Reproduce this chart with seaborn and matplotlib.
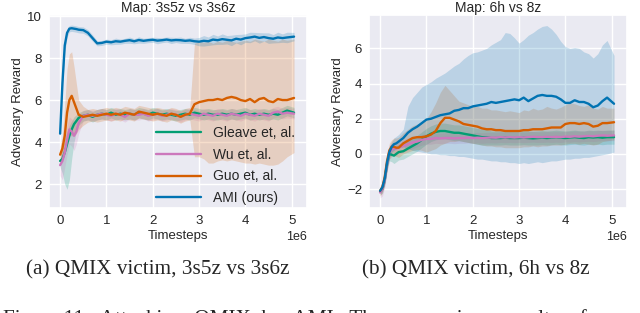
"""
    Attack curves of AMI against QMIX victims (two SMAC maps),
    mean reward per method with its shaded spread
"""

import matplotlib
matplotlib.use("Agg")
import matplotlib.pyplot as plt
import seaborn as sns
import pandas as pd
import numpy as np

sns.set_theme(style="darkgrid")
plt.rcParams["font.family"] = ["Liberation Sans", "DejaVu Sans"]

# timesteps in units of 1e6
steps = [0, 0.05, 0.1, 0.15, 0.2, 0.25, 0.3, 0.35, 0.4,
         0.5, 0.6, 0.7, 0.8, 0.9,
         1.0, 1.1, 1.2, 1.3, 1.4, 1.5, 1.6, 1.7, 1.8, 1.9,
         2.0, 2.1, 2.2, 2.3, 2.4, 2.5, 2.6, 2.7, 2.8, 2.9,
         3.0, 3.1, 3.2, 3.3, 3.4, 3.5, 3.6, 3.7, 3.8, 3.9,
         4.0, 4.1, 4.2, 4.3, 4.4, 4.5, 4.6, 4.7, 4.8, 4.9,
         5.05]

methods = ["Gleave et, al.", "Wu et, al.", "Guo et, al.", "AMI (ours)"]
colors = ["#029e73", "#cc78bc", "#d55e00", "#0173b2"]

# ---- Map: 3s5z vs 3s6z ----
gle_l = [3.1, 3.2, 3.5, 3.9, 4.3, 4.6, 4.85, 5.0, 5.15,
         5.25, 5.3, 5.2, 5.3, 5.35,
         5.3, 5.4, 5.3, 5.35, 5.3, 5.35, 5.3, 5.4, 5.35, 5.3,
         5.4, 5.35, 5.3, 5.35, 5.3, 5.25, 5.3, 5.35, 5.3, 5.4,
         5.35, 5.3, 5.35, 5.3, 5.3, 5.35, 5.3, 5.35, 5.3, 5.35,
         5.4, 5.3, 5.35, 5.3, 5.35, 5.3, 5.35, 5.3, 5.4, 5.5,
         5.4]
gle_l_lo = [2.8, 2.5, 2.0, 1.75, 2.2, 3.2, 4.0, 4.5, 4.8,
            5.0, 5.05, 4.95, 5.05, 5.1,
            5.05, 5.15, 5.05, 5.1, 5.05, 5.1, 5.05, 5.15, 5.1, 5.05,
            5.15, 5.1, 5.05, 5.1, 5.05, 5.0, 5.05, 5.1, 5.05, 5.15,
            5.1, 5.05, 5.1, 5.05, 5.05, 5.1, 5.05, 5.1, 5.05, 5.1,
            5.15, 5.05, 5.1, 5.05, 5.1, 5.05, 5.1, 5.05, 5.15, 5.25,
            5.15]
gle_l_hi = [3.4, 3.7, 4.2, 4.5, 4.8, 5.0, 5.2, 5.3, 5.4,
            5.5, 5.55, 5.45, 5.55, 5.6,
            5.55, 5.65, 5.55, 5.6, 5.55, 5.6, 5.55, 5.65, 5.6, 5.55,
            5.65, 5.6, 5.55, 5.6, 5.55, 5.5, 5.55, 5.6, 5.55, 5.65,
            5.6, 5.55, 5.6, 5.55, 5.55, 5.6, 5.55, 5.6, 5.55, 5.6,
            5.65, 5.55, 5.6, 5.55, 5.6, 5.55, 5.6, 5.55, 5.65, 5.75,
            5.65]

wu_l = [2.9, 3.1, 3.5, 4.1, 4.6, 4.5, 4.3, 4.5, 4.9,
        5.25, 5.3, 5.25, 5.3, 5.35,
        5.3, 5.25, 5.35, 5.3, 5.2, 5.35, 5.3, 5.3, 5.35, 5.25,
        5.3, 5.35, 5.25, 5.3, 5.35, 5.3, 5.2, 5.3, 5.35, 5.3,
        5.25, 5.35, 5.3, 5.25, 5.35, 5.3, 5.25, 5.35, 5.3, 5.25,
        5.35, 5.3, 5.25, 5.35, 5.3, 5.25, 5.4, 5.45, 5.35, 5.4,
        5.35]
wu_l_lo = [2.4, 2.2, 2.8, 3.4, 3.9, 3.8, 3.6, 3.9, 4.4,
           5.0, 5.05, 5.0, 5.05, 5.1,
           5.05, 5.0, 5.1, 5.05, 4.95, 5.1, 5.05, 5.05, 5.1, 5.0,
           5.05, 5.1, 5.0, 5.05, 5.1, 5.05, 4.95, 5.05, 5.1, 5.05,
           5.0, 5.1, 5.05, 5.0, 5.1, 5.05, 5.0, 5.1, 5.05, 5.0,
           5.1, 5.05, 5.0, 5.1, 5.05, 5.0, 5.15, 5.2, 5.1, 5.15,
           5.1]
wu_l_hi = [3.3, 3.6, 4.2, 4.8, 5.2, 5.1, 5.0, 5.1, 5.3,
           5.5, 5.55, 5.5, 5.55, 5.6,
           5.55, 5.5, 5.6, 5.55, 5.45, 5.6, 5.55, 5.55, 5.6, 5.5,
           5.55, 5.6, 5.5, 5.55, 5.6, 5.55, 5.45, 5.55, 5.6, 5.55,
           5.5, 5.6, 5.55, 5.5, 5.6, 5.55, 5.5, 5.6, 5.55, 5.5,
           5.6, 5.55, 5.5, 5.6, 5.55, 5.5, 5.65, 5.7, 5.6, 5.65,
           5.6]

guo_l = [3.4, 3.7, 4.3, 5.4, 6.0, 6.2, 5.9, 5.6, 5.3,
         5.2, 5.25, 5.3, 5.25, 5.3,
         5.35, 5.3, 5.35, 5.3, 5.4, 5.35, 5.3, 5.45, 5.4, 5.35,
         5.3, 5.35, 5.3, 5.25, 5.35, 5.3, 5.2, 5.3, 5.35, 5.8,
         5.9, 5.95, 6.0, 6.0, 6.05, 6.0, 6.1, 6.15, 6.1, 6.0,
         5.95, 6.05, 5.9, 6.05, 6.1, 5.95, 5.9, 6.05, 6.0, 6.0,
         6.1]
guo_l_lo = [3.0, 3.2, 3.5, 4.0, 4.3, 4.3, 4.3, 4.4, 4.6,
            4.8, 4.95, 5.0, 4.95, 5.0,
            5.05, 5.0, 5.05, 5.0, 5.1, 5.05, 5.0, 5.15, 5.1, 5.05,
            5.0, 5.05, 5.0, 4.95, 5.05, 5.0, 4.9, 5.0, 5.05, 3.3,
            3.3, 3.2, 3.0, 3.0, 3.1, 3.15, 3.1, 3.15, 3.1, 3.05,
            3.0, 3.0, 2.95, 3.0, 2.95, 2.9, 2.9, 2.95, 3.1, 3.3,
            3.5]
guo_l_hi = [3.8, 4.3, 5.8, 7.5, 8.2, 8.3, 7.6, 6.8, 6.0,
            5.7, 5.55, 5.6, 5.55, 5.6,
            5.65, 5.6, 5.65, 5.6, 5.7, 5.65, 5.6, 5.75, 5.7, 5.65,
            5.6, 5.65, 5.6, 5.55, 5.65, 5.6, 5.5, 5.6, 5.65, 8.7,
            8.8, 8.75, 8.8, 8.7, 8.8, 8.75, 8.85, 8.8, 8.75, 8.8,
            8.85, 8.8, 8.9, 8.85, 8.8, 8.9, 8.85, 8.8, 8.9, 8.85,
            8.9]

ami_l = [4.4, 6.8, 8.6, 9.2, 9.4, 9.42, 9.4, 9.38, 9.35,
         9.33, 9.2, 8.95, 8.7, 8.72,
         8.78, 8.75, 8.8, 8.78, 8.82, 8.85, 8.8, 8.86, 8.82, 8.85,
         8.87, 8.83, 8.85, 8.88, 8.84, 8.86, 8.85, 8.82, 8.84, 8.8,
         8.78, 8.82, 8.8, 8.88, 8.85, 8.9, 8.87, 8.84, 8.92, 8.88,
         8.95, 8.98, 9.02, 8.96, 9.0, 8.95, 8.92, 8.98, 8.95, 8.98,
         9.02]
ami_l_err = [0.1, 0.4, 0.35, 0.2, 0.15, 0.15, 0.15, 0.15, 0.15,
             0.15, 0.15, 0.15, 0.12, 0.12,
             0.12, 0.12, 0.15, 0.12, 0.12, 0.15, 0.12, 0.15, 0.12, 0.12,
             0.12, 0.15, 0.12, 0.12, 0.15, 0.12, 0.15, 0.12, 0.15, 0.15,
             0.2, 0.25, 0.2, 0.25, 0.2, 0.25, 0.2, 0.25, 0.2, 0.25,
             0.2, 0.25, 0.2, 0.25, 0.2, 0.25, 0.2, 0.25, 0.2, 0.25,
             0.2]

# ---- Map: 6h vs 8z ----
gle_r = [-2.15, -2.0, -1.5, -0.6, 0.0, -0.05, -0.1, 0.0, 0.1,
         0.15, 0.3, 0.45, 0.6, 0.8,
         1.0, 1.15, 1.25, 1.3, 1.3, 1.25, 1.2, 1.2, 1.15, 1.1,
         1.05, 1.0, 0.95, 0.95, 0.9, 0.9, 0.9, 0.92, 0.9, 0.9,
         0.9, 0.92, 0.9, 0.88, 0.9, 0.92, 0.9, 0.92, 0.95, 0.92,
         0.9, 0.93, 0.95, 0.92, 0.9, 0.95, 0.93, 0.95, 0.92, 0.95,
         0.95]
gle_r_lo = [-2.35, -2.25, -1.8, -1.0, -0.4, -0.45, -0.55, -0.45, -0.35,
            -0.3, -0.15, 0.0, 0.15, 0.35,
            0.55, 0.7, 0.8, 0.85, 0.85, 0.8, 0.75, 0.75, 0.7, 0.65,
            0.6, 0.55, 0.5, 0.5, 0.5, 0.5, 0.5, 0.52, 0.5, 0.5,
            0.5, 0.52, 0.5, 0.5, 0.5, 0.52, 0.5, 0.52, 0.55, 0.52,
            0.5, 0.53, 0.55, 0.52, 0.5, 0.55, 0.53, 0.55, 0.52, 0.55,
            0.55]
gle_r_hi = [-1.95, -1.75, -1.2, -0.2, 0.4, 0.35, 0.35, 0.45, 0.55,
            0.6, 0.75, 0.9, 1.05, 1.25,
            1.45, 1.6, 1.7, 1.75, 1.75, 1.7, 1.65, 1.65, 1.6, 1.55,
            1.5, 1.45, 1.4, 1.4, 1.3, 1.3, 1.3, 1.32, 1.3, 1.3,
            1.3, 1.32, 1.3, 1.28, 1.3, 1.32, 1.3, 1.32, 1.35, 1.32,
            1.3, 1.33, 1.35, 1.32, 1.3, 1.35, 1.33, 1.35, 1.32, 1.35,
            1.35]

wu_r = [-2.2, -2.0, -1.5, -0.6, 0.1, 0.25, 0.3, 0.3, 0.35,
        0.45, 0.55, 0.65, 0.7, 0.8,
        0.85, 0.85, 0.9, 0.88, 0.9, 0.9, 0.88, 0.9, 0.9, 0.92,
        0.9, 0.92, 0.9, 0.92, 0.93, 0.92, 0.95, 0.93, 0.95, 0.93,
        0.95, 0.93, 0.95, 0.97, 0.95, 0.95, 0.97, 0.95, 0.97, 0.95,
        0.98, 0.97, 1.0, 0.98, 1.0, 1.02, 1.0, 1.03, 1.05, 1.03,
        1.05]
wu_r_lo = [-2.5, -2.4, -1.9, -1.0, -0.3, -0.15, -0.1, -0.1, -0.05,
           0.1, 0.2, 0.3, 0.4, 0.5,
           0.55, 0.55, 0.6, 0.58, 0.6, 0.6, 0.58, 0.6, 0.6, 0.62,
           0.6, 0.62, 0.6, 0.62, 0.63, 0.62, 0.65, 0.63, 0.65, 0.63,
           0.65, 0.63, 0.65, 0.67, 0.65, 0.65, 0.67, 0.65, 0.67, 0.65,
           0.68, 0.67, 0.7, 0.68, 0.7, 0.72, 0.7, 0.73, 0.75, 0.73,
           0.75]
wu_r_hi = [-1.9, -1.6, -1.1, -0.2, 0.5, 0.6, 0.65, 0.65, 0.7,
           0.8, 0.9, 1.0, 1.0, 1.1,
           1.15, 1.15, 1.2, 1.18, 1.2, 1.2, 1.18, 1.2, 1.2, 1.22,
           1.2, 1.22, 1.2, 1.22, 1.23, 1.22, 1.25, 1.23, 1.25, 1.23,
           1.25, 1.23, 1.25, 1.27, 1.25, 1.25, 1.27, 1.25, 1.27, 1.25,
           1.28, 1.27, 1.3, 1.28, 1.3, 1.32, 1.3, 1.33, 1.35, 1.33,
           1.35]

guo_r = [-2.1, -1.9, -1.3, -0.4, 0.2, 0.4, 0.4, 0.35, 0.35,
         0.6, 0.75, 0.9, 0.95, 0.95,
         1.0, 1.1, 1.3, 1.75, 2.05, 2.05, 1.95, 1.85, 1.7, 1.65,
         1.6, 1.55, 1.45, 1.4, 1.4, 1.35, 1.35, 1.3, 1.3, 1.3,
         1.3, 1.35, 1.35, 1.4, 1.4, 1.4, 1.45, 1.5, 1.5, 1.5,
         1.7, 1.75, 1.75, 1.7, 1.75, 1.7, 1.55, 1.6, 1.75, 1.75,
         1.8]
guo_r_lo = [-2.4, -2.2, -1.7, -0.9, -0.3, -0.1, -0.1, -0.15, -0.2,
            0.0, 0.1, 0.2, 0.25, 0.2,
            0.1, 0.2, 0.3, 0.5, 0.6, 0.7, 0.7, 0.75, 0.7, 0.65,
            0.6, 0.55, 0.5, 0.45, 0.45, 0.4, 0.4, 0.35, 0.35, 0.35,
            0.35, 0.4, 0.4, 0.45, 0.4, 0.45, 0.45, 0.5, 0.5, 0.5,
            0.55, 0.6, 0.6, 0.55, 0.6, 0.55, 0.5, 0.55, 0.7, 0.75,
            0.8]
guo_r_hi = [-1.8, -1.6, -1.0, 0.0, 0.6, 0.8, 0.9, 0.9, 0.95,
            1.2, 1.4, 1.6, 1.7, 1.8,
            2.0, 2.4, 2.9, 3.5, 3.9, 3.6, 3.3, 3.0, 2.9, 2.8,
            2.7, 2.7, 2.6, 2.6, 2.5, 2.5, 2.45, 2.4, 2.45, 2.4,
            2.35, 2.5, 2.45, 2.6, 2.5, 2.55, 2.7, 2.6, 2.55, 2.65,
            2.8, 2.9, 2.85, 2.75, 2.7, 2.8, 2.6, 2.55, 2.7, 2.6,
            2.6]

ami_r = [-2.1, -1.9, -1.4, -0.5, 0.1, 0.4, 0.55, 0.6, 0.7,
         0.9, 1.2, 1.4, 1.55, 1.75,
         1.95, 2.0, 2.1, 2.2, 2.25, 2.3, 2.45, 2.5, 2.6, 2.6,
         2.7, 2.75, 2.8, 2.85, 2.95, 2.9, 2.95, 3.0, 3.05, 3.1,
         3.05, 3.2, 3.0, 3.15, 3.3, 3.35, 3.3, 3.3, 3.25, 3.1,
         2.9, 2.9, 3.05, 2.95, 2.95, 2.85, 2.65, 2.75, 3.0, 3.2,
         2.85]
ami_r_lo = [-2.3, -2.1, -1.7, -0.8, -0.2, 0.1, 0.2, 0.3, 0.35,
            0.4, 0.3, 0.2, 0.15, 0.1,
            0.05, 0.0, 0.0, -0.05, -0.05, -0.1, -0.1, -0.15, -0.15, -0.2,
            -0.25, -0.3, -0.3, -0.35, -0.4, -0.4, -0.45, -0.45, -0.5, -0.5,
            -0.55, -0.5, -0.55, -0.5, -0.45, -0.5, -0.45, -0.4, -0.4, -0.35,
            -0.3, -0.3, -0.25, -0.25, -0.2, -0.2, -0.15, -0.1, -0.05, 0.0,
            0.1]
ami_r_hi = [-1.9, -1.7, -1.1, -0.2, 0.4, 0.7, 0.9, 1.0, 1.1,
            1.4, 2.7, 3.2, 3.5, 3.8,
            3.95, 4.1, 4.3, 4.45, 4.6, 4.8, 5.0, 5.15, 5.4, 5.6,
            5.75, 5.8, 5.9, 6.0, 6.2, 6.35, 6.5, 6.9, 6.85, 6.6,
            6.3, 6.5, 6.75, 6.9, 7.1, 7.25, 7.3, 7.1, 6.8, 6.4,
            6.1, 6.0, 6.05, 6.0, 5.8, 5.7, 5.45, 5.7, 6.2, 6.45,
            5.6]


def plot_panel(ax, curves, title, ylim, show_legend):
    """
    Draws the mean curves with seaborn and their spread as shaded bands
    Args: ax - axes, curves - list of (mean, lo, hi) in methods order
    """
    x = np.array(steps) * 1e6
    frames = []
    for name, color, (mean, lo, hi) in zip(methods, colors, curves):
        ax.fill_between(x, lo, hi, color=color, alpha=0.2, lw=0)
        frames.append(pd.DataFrame({"Timesteps": x, "Adversary Reward": mean,
                                    "method": name}))
    df = pd.concat(frames, ignore_index=True)
    sns.lineplot(data=df, x="Timesteps", y="Adversary Reward", hue="method",
                 hue_order=methods, palette=colors, lw=1.7, errorbar=None,
                 legend=show_legend, ax=ax)
    ax.set_title(title, fontsize=10, pad=2)
    ax.set_xlabel("Timesteps", fontsize=9.5, labelpad=2)
    ax.set_ylabel("Adversary Reward", fontsize=9.5, labelpad=2)
    ax.set_xlim(-0.24e6, 5.33e6)
    ax.set_ylim(*ylim)
    # seaborn keeps a hidden tick length that would push the labels away
    ax.tick_params(labelsize=9.5, length=0, pad=5)
    ax.xaxis.get_offset_text().set_fontsize(9)
    if show_legend:
        ax.legend(loc="lower right", bbox_to_anchor=(0.955, 0.015),
                  frameon=False, fontsize=10, borderpad=0, borderaxespad=0,
                  handlelength=3.2, handletextpad=0.9, labelspacing=0.55)
        for line in ax.get_legend().get_lines():
            line.set_linewidth(1.7)


fig = plt.figure(figsize=(6.4, 3.13), dpi=100)
ax1 = fig.add_axes([49 / 640, 1 - 208 / 313, 258 / 640, 193 / 313])
ax2 = fig.add_axes([369 / 640, 1 - 208 / 313, 258 / 640, 193 / 313])

ami_l_lo = np.array(ami_l) - np.array(ami_l_err)
ami_l_hi = np.array(ami_l) + np.array(ami_l_err)

plot_panel(ax1, [(gle_l, gle_l_lo, gle_l_hi), (wu_l, wu_l_lo, wu_l_hi),
                 (guo_l, guo_l_lo, guo_l_hi), (ami_l, ami_l_lo, ami_l_hi)],
           "Map: 3s5z vs 3s6z", (0.86, 10.05), True)
plot_panel(ax2, [(gle_r, gle_r_lo, gle_r_hi), (wu_r, wu_r_lo, wu_r_hi),
                 (guo_r, guo_r_lo, guo_r_hi), (ami_r, ami_r_lo, ami_r_hi)],
           "Map: 6h vs 8z", (-3.08, 7.9), False)

serif = ["Liberation Serif", "DejaVu Serif"]
fig.text(158 / 640, 1 - 274 / 313, "(a) QMIX victim, 3s5z vs 3s6z",
         ha="center", va="baseline", family=serif, fontsize=15.3)
fig.text(476 / 640, 1 - 274 / 313, "(b) QMIX victim, 6h vs 8z",
         ha="center", va="baseline", family=serif, fontsize=15.3)
# caption of the paper's figure, cut by the lower edge as in the source
fig.text(3 / 640, 1 - 324 / 313,
         "Figure 11:  Attacking  QMIX  by  AMI.  The  comparison  results  of",
         ha="left", va="baseline", family=serif, fontsize=15.3)

fig.savefig("out.png", dpi=100)
